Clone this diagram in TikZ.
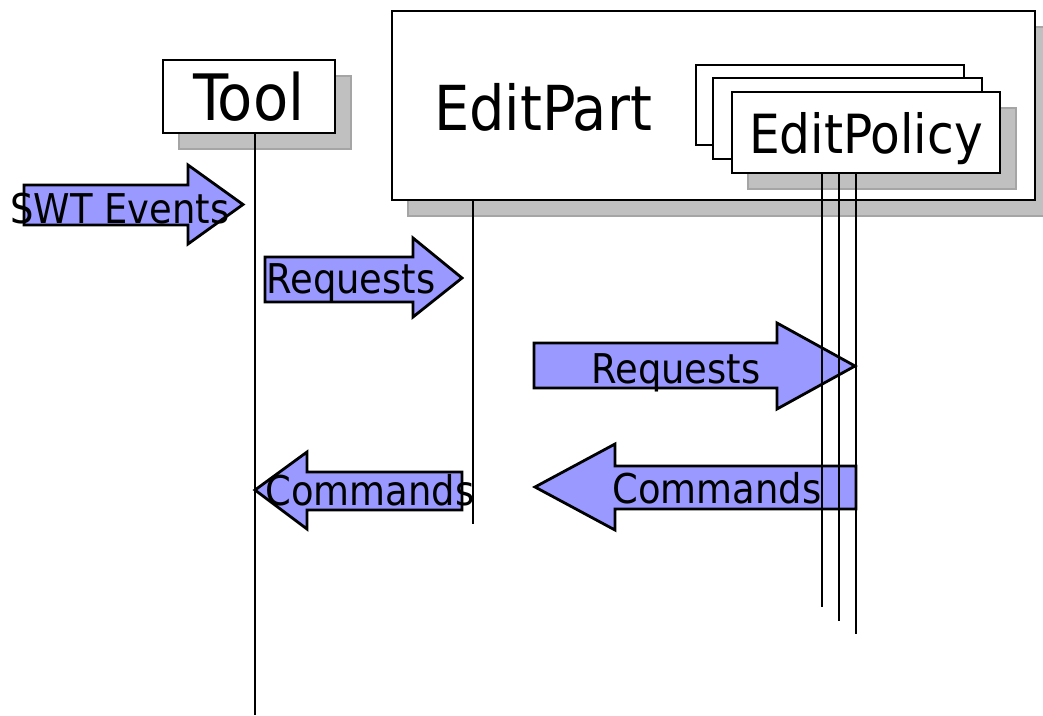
\documentclass[tikz,border=0pt]{standalone}
\usepackage{fontspec}
\setmainfont{DejaVu Sans Condensed}
\usetikzlibrary{shadows}

\definecolor{msgblue}{RGB}{153,153,255}
\definecolor{shadowgray}{RGB}{192,192,192}
\definecolor{shadowedge}{RGB}{165,165,165}

\tikzset{
  box/.style={draw=black, fill=white, line width=2.8pt, inner sep=0pt, outer sep=0pt, text depth=0pt},
  shadowed/.style={drop shadow={shadow xshift=16pt, shadow yshift=-16pt, fill=shadowgray, draw=shadowedge, line width=1.2pt, opacity=1}},
  msg/.style={draw=black, fill=msgblue, line width=2.8pt, line join=miter},
  msgtext/.style={font=\fontsize{41}{45}\selectfont, inner sep=0pt, anchor=base},
  lifeline/.style={line width=2.5pt},
}

\begin{document}
\begin{tikzpicture}[x=1pt, y=-1pt] % un punto por pixel, eje y hacia abajo

    \useasboundingbox (0,0) rectangle (1043,715);

    % 1. Cajas de Tool y EditPart con su sombra gris
    \node[box, shadowed, minimum width=172pt, minimum height=73pt, font=\fontsize{64}{70}\selectfont] (tool) at (249,96.5) {Tool};
    \node[box, shadowed, minimum width=643pt, minimum height=189pt] (editpart) at (713.5,105.5) {};
    \node[anchor=base, inner sep=0pt, font=\fontsize{62}{68}\selectfont] (editpartname) at (543,130) {EditPart};

    % 2. Pila de tres EditPolicy (la de delante lleva el texto)
    \node[box, minimum width=268pt, minimum height=80pt] (policyback) at (830,105) {};
    \node[box, minimum width=269pt, minimum height=81pt] (policymid) at (847.5,118.5) {};
    \node[box, shadowed, minimum width=268pt, minimum height=81pt, font=\fontsize{54}{60}\selectfont] (policy) at (866,132.5) {EditPolicy};

    % 3. Flechas gruesas de los mensajes
    \draw[msg] (24,185) -- (188,185) -- (188,165) -- (243,204.5) -- (188,244) -- (188,225) -- (24,225) -- cycle;
    \draw[msg] (265,257) -- (413,257) -- (413,238) -- (462,278) -- (413,317) -- (413,302) -- (265,302) -- cycle;
    \draw[msg] (534,343) -- (777,343) -- (777,323) -- (855,366) -- (777,409) -- (777,388) -- (534,388) -- cycle;
    \draw[msg] (462,472) -- (307,472) -- (307,452) -- (255,490) -- (307,529) -- (307,510) -- (462,510) -- cycle;
    \draw[msg] (856,466) -- (615,466) -- (615,444) -- (535,487) -- (615,530) -- (615,509) -- (856,509) -- cycle;

    % 4. Lineas de vida
    \coordinate (toolend) at (255,715);
    \coordinate (partend) at (473,524);
    \draw[lifeline] (tool.south -| toolend) -- (toolend);
    \draw[lifeline] (editpart.south -| partend) -- (partend);
    \foreach \x/\y [count=\i] in {822/607, 839/621, 856/634} {
        \coordinate (policyend\i) at (\x,\y);
        \draw[lifeline] (policy.south -| policyend\i) -- (policyend\i);
    }

    % 5. Textos de los mensajes (por encima de todo)
    \node[msgtext] (swtname) at (120,223) {SWT Events};
    \node[msgtext] (reqname1) at (351,293) {Requests};
    \node[msgtext] (reqname2) at (676,383) {Requests};
    \node[msgtext] (cmdname1) at (370,505) {Commands};
    \node[msgtext] (cmdname2) at (717,503) {Commands};

\end{tikzpicture}
\end{document}
